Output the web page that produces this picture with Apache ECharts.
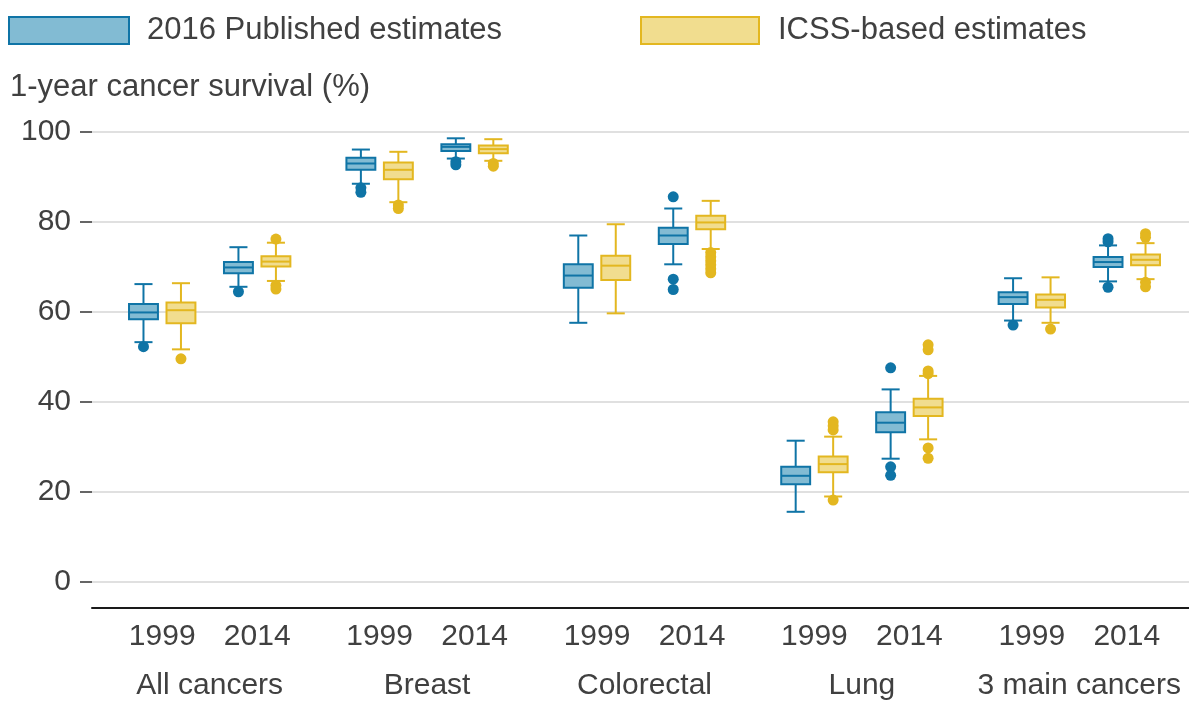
<!DOCTYPE html>
<html>
<head>
<meta charset="utf-8">
<script src="https://cdn.jsdelivr.net/npm/echarts@6/dist/echarts.min.js"></script>
<style>
html,body{margin:0;padding:0;background:#fff;}
#chart{width:1189px;height:702px;}
</style>
</head>
<body>
<div id="chart"></div>
<script>
// ---- data ----
const groups = ['All cancers', 'Breast', 'Colorectal', 'Lung', '3 main cancers'];
const years = ['1999', '2014'];
const seriesNames = ['2016 Published estimates', 'ICSS-based estimates'];
const yTicks = [0, 20, 40, 60, 80, 100];

// [low whisker, Q1, median, Q3, high whisker] per group
const published1999 = [
  [53.3, 58.4, 59.9, 61.8, 66.2],
  [88.5, 91.6, 93.0, 94.3, 96.1],
  [57.6, 65.4, 68.1, 70.6, 77.0],
  [15.6, 21.7, 23.6, 25.6, 31.4],
  [58.1, 61.8, 63.3, 64.4, 67.5]
];
const published2014 = [
  [65.6, 68.6, 69.9, 71.1, 74.4],
  [94.1, 95.8, 96.7, 97.3, 98.6],
  [70.6, 75.1, 77.0, 78.7, 83.0],
  [27.4, 33.3, 35.4, 37.7, 42.8],
  [66.8, 70.0, 71.1, 72.2, 74.8]
];
const icss1999 = [
  [51.7, 57.5, 60.4, 62.1, 66.4],
  [84.4, 89.5, 91.6, 93.2, 95.6],
  [59.7, 67.1, 70.3, 72.5, 79.5],
  [19.0, 24.4, 26.2, 27.9, 32.3],
  [57.6, 61.0, 62.7, 63.9, 67.7]
];
const icss2014 = [
  [66.9, 70.1, 71.2, 72.4, 75.4],
  [93.6, 95.3, 96.2, 97.0, 98.4],
  [74.0, 78.4, 79.9, 81.4, 84.7],
  [31.7, 36.9, 38.8, 40.7, 45.8],
  [67.3, 70.4, 71.6, 72.8, 75.3]
];
// outliers per group
const publishedOut1999 = [[52.3], [87.6, 86.6], [], [], [57.1]];
const publishedOut2014 = [[64.5], [93.4, 92.7], [85.6, 67.3, 65.0], [47.6, 25.6, 23.7], [76.3, 75.6, 65.5]];
const icssOut1999 = [[49.6], [83.8, 83.0], [], [35.6, 34.7, 33.8, 18.2], [56.2]];
const icssOut2014 = [[76.2, 65.9, 65.1], [93.0, 92.4], [73.2, 72.3, 71.4, 70.5, 69.6, 68.7], [52.7, 51.6, 46.9, 46.3, 29.8, 27.5], [77.4, 76.6, 66.6, 65.6]];

// ---- styles ----
const TEXT = '#404040';
const FONT = 'Liberation Sans, Arial, sans-serif';
const STROKE = ['#0f74a6', '#e3b720'];
const FILL = ['#82bbd3', '#f1dd8f'];
const YEAR_OFF = 0.2184;   // fraction of band width
const SER_OFF = 0.0862;
const BOX_W = 0.133;
const CAP_W = 0.083;

function boxData(a1999, a2014) {
  const out = [];
  groups.forEach((g, i) => {
    out.push([i, 0].concat(a1999[i]));
    out.push([i, 1].concat(a2014[i]));
  });
  return out;
}
function outData(o1999, o2014) {
  const out = [];
  groups.forEach((g, i) => {
    o1999[i].forEach(v => out.push([i, 0, v]));
    o2014[i].forEach(v => out.push([i, 1, v]));
  });
  return out;
}

function centerX(api, s) {
  const g = api.value(0), yr = api.value(1);
  const c = api.coord([g, 0]);
  const bw = api.size([1, 0])[0];
  return { x: c[0] + (yr === 0 ? -1 : 1) * YEAR_OFF * bw + (s === 0 ? -1 : 1) * SER_OFF * bw, bw: bw };
}

function makeBoxRender(s) {
  return function (params, api) {
    const p = centerX(api, s);
    const x = p.x, bw = p.bw;
    const g = api.value(0);
    const y = k => api.coord([g, api.value(k)])[1];
    const yLo = y(2), yQ1 = y(3), yMed = y(4), yQ3 = y(5), yHi = y(6);
    const hw = BOX_W * bw / 2, cw = CAP_W * bw / 2;
    const ls = { stroke: STROKE[s], lineWidth: 2 };
    return {
      type: 'group',
      children: [
        { type: 'line', shape: { x1: x, y1: yHi, x2: x, y2: yQ3 }, style: ls },
        { type: 'line', shape: { x1: x, y1: yQ1, x2: x, y2: yLo }, style: ls },
        { type: 'line', shape: { x1: x - cw, y1: yHi, x2: x + cw, y2: yHi }, style: ls },
        { type: 'line', shape: { x1: x - cw, y1: yLo, x2: x + cw, y2: yLo }, style: ls },
        { type: 'rect', shape: { x: x - hw, y: yQ3, width: hw * 2, height: yQ1 - yQ3 },
          style: { fill: FILL[s], stroke: STROKE[s], lineWidth: 2 } },
        { type: 'line', shape: { x1: x - hw, y1: yMed, x2: x + hw, y2: yMed }, style: ls }
      ]
    };
  };
}
function makeOutRender(s) {
  return function (params, api) {
    const p = centerX(api, s);
    const yv = api.coord([api.value(0), api.value(2)])[1];
    return { type: 'circle', shape: { cx: p.x, cy: yv, r: 5.5 }, style: { fill: STROKE[s] } };
  };
}

const chart = echarts.init(document.getElementById('chart'), null, { renderer: 'canvas' });
chart.setOption({
  animation: false,
  textStyle: { fontFamily: FONT },
  title: {
    text: '1-year cancer survival (%)', left: 10, top: 72, padding: 0,
    textStyle: { fontSize: 31, fontWeight: 'normal', color: TEXT, fontFamily: FONT }
  },
  legend: [
    { left: 8, top: 15, padding: 0, itemWidth: 120, itemHeight: 27, icon: 'rect', selectedMode: false,
      textStyle: { fontSize: 31, color: TEXT, padding: [0, 0, 0, 13], fontFamily: FONT },
      data: [{ name: seriesNames[0], itemStyle: { color: FILL[0], borderColor: STROKE[0], borderWidth: 2 } }] },
    { left: 640, top: 15, padding: 0, itemWidth: 118, itemHeight: 27, icon: 'rect', selectedMode: false,
      textStyle: { fontSize: 31, color: TEXT, padding: [0, 0, 0, 14], fontFamily: FONT },
      data: [{ name: seriesNames[1], itemStyle: { color: FILL[1], borderColor: STROKE[1], borderWidth: 2 } }] }
  ],
  grid: [
    { left: 92, right: 0, top: 132, bottom: 120 },
    { left: 101, right: 1, top: 132, bottom: 120 }
  ],
  xAxis: [
    { type: 'value', gridIndex: 0, min: 0, max: 1, offset: 26,
      axisLine: { show: true, onZero: false, lineStyle: { color: '#1a1a1a', width: 2 } },
      axisTick: { show: false }, axisLabel: { show: false }, splitLine: { show: false } },
    { type: 'category', gridIndex: 1, data: groups, offset: 26, boundaryGap: true,
      axisLine: { show: false }, axisTick: { show: false },
      axisLabel: {
        margin: 4, interval: 0, color: TEXT,
        formatter: v => '{y|' + years[0] + '}{s|}{y|' + years[1] + '}\n{g|' + v + '}',
        rich: {
          y: { width: 65, align: 'center', fontSize: 30, lineHeight: 49, color: TEXT, fontFamily: FONT },
          s: { width: 30, lineHeight: 49 },
          g: { fontSize: 30, lineHeight: 49, color: TEXT, fontFamily: FONT }
        }
      } }
  ],
  yAxis: [
    { type: 'value', gridIndex: 0, min: yTicks[0], max: yTicks[yTicks.length - 1], interval: 20,
      axisLine: { show: false },
      axisTick: { show: true, length: 12, lineStyle: { color: '#333', width: 1.5 } },
      axisLabel: { fontSize: 30, color: TEXT, margin: 21, fontFamily: FONT },
      splitLine: { show: true, lineStyle: { color: '#e0e0e0', width: 2 } } },
    { type: 'value', gridIndex: 1, min: yTicks[0], max: yTicks[yTicks.length - 1], show: false,
      splitLine: { show: false } }
  ],
  series: [
    { name: seriesNames[0], type: 'custom', xAxisIndex: 1, yAxisIndex: 1, renderItem: makeOutRender(0),
      itemStyle: { color: FILL[0] }, encode: { x: 0, y: 2 }, data: outData(publishedOut1999, publishedOut2014) },
    { name: seriesNames[1], type: 'custom', xAxisIndex: 1, yAxisIndex: 1, renderItem: makeOutRender(1),
      itemStyle: { color: FILL[1] }, encode: { x: 0, y: 2 }, data: outData(icssOut1999, icssOut2014) },
    { name: seriesNames[0], type: 'custom', xAxisIndex: 1, yAxisIndex: 1, renderItem: makeBoxRender(0),
      itemStyle: { color: FILL[0] }, encode: { x: 0, y: [2, 3, 4, 5, 6] }, data: boxData(published1999, published2014) },
    { name: seriesNames[1], type: 'custom', xAxisIndex: 1, yAxisIndex: 1, renderItem: makeBoxRender(1),
      itemStyle: { color: FILL[1] }, encode: { x: 0, y: [2, 3, 4, 5, 6] }, data: boxData(icss1999, icss2014) }
  ]
});
</script>
</body>
</html>
